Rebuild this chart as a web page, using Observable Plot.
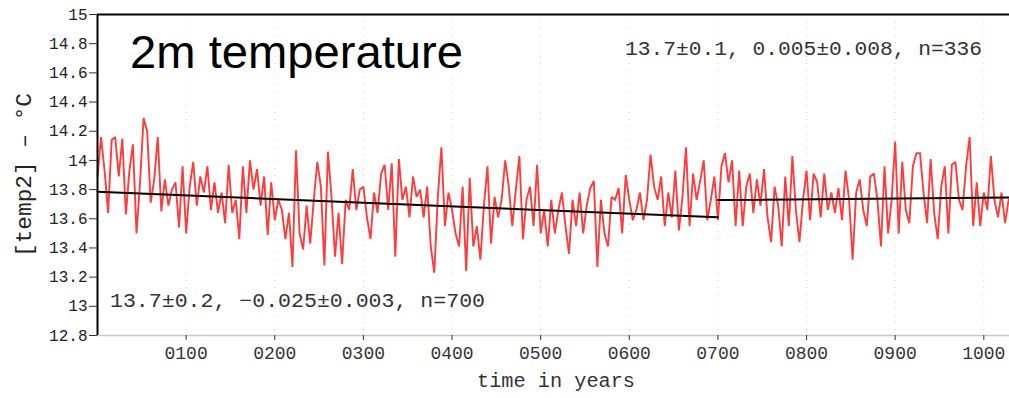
<!DOCTYPE html>
<html><head><meta charset="utf-8">
<script src="https://cdn.jsdelivr.net/npm/d3@7"></script>
<script src="https://cdn.jsdelivr.net/npm/@observablehq/plot@0.6"></script>
<style>
html,body{margin:0;padding:0;background:#fff;}
#chart{width:1009px;height:398px;overflow:hidden;}
</style></head><body><div id="chart"></div>
<script>
// 2m temperature, one value every 4 model years (°C)
const yearStep = 4;
const tempA = [
13.89,14.16,13.93,13.64,14.14,14.16,13.89,14.15,13.63,13.93,
14.11,13.50,13.85,14.29,14.20,13.71,13.87,14.16,13.65,13.87,
13.69,13.80,13.85,13.54,13.96,13.50,13.82,13.99,13.69,13.89,
13.78,13.96,13.66,13.85,13.64,13.78,13.57,13.97,13.64,13.73,
13.46,13.96,13.64,14.00,13.80,13.94,13.69,13.89,13.49,13.85,
13.59,13.73,13.66,13.46,13.64,13.27,14.07,13.50,13.39,13.69,
13.43,13.73,13.99,13.82,13.28,14.06,13.75,13.34,13.64,13.29,
13.73,13.66,13.94,13.66,13.80,13.82,13.61,13.46,13.78,13.64,
13.91,13.97,13.66,13.98,13.34,14.01,13.73];
const tempB = [
13.82,13.61,13.89,13.75,13.80,13.61,13.82,13.41,13.23,13.75,
14.09,13.55,13.78,13.66,13.50,13.41,13.82,13.24,13.88,13.41,
13.55,13.32,13.69,13.96,13.43,13.75,13.61,13.73,14.00,13.82,
13.55,13.80,14.03,13.46,13.73,13.82,13.55,13.97,13.50,13.66,
13.41,13.73,13.50,13.66,13.78,13.55,13.36,13.73,13.55,13.78,
13.50,13.69,13.81,13.86,13.27,13.73,13.50,13.41,13.75,13.73,
13.81,13.50,13.90,13.73,13.59,13.66,13.78,13.59,13.73,14.04,
13.82,13.73,13.89,13.55,13.78,13.61,13.93,13.52,13.75,14.09,
13.55,13.91,13.73,13.86,14.00,13.59];
const tempC = [
13.73,13.89,13.59,13.96,14.05,13.85,14.00,13.55,13.93,13.55,
13.82,13.91,13.64,13.87,13.69,13.94,13.61,13.44,13.82,13.69,
13.41,13.89,13.55,14.03,13.66,13.44,13.73,13.93,13.59,13.91,
13.85,13.61,13.91,13.66,13.78,13.64,13.81,13.59,13.93,13.73,
13.32,13.78,13.87,13.66,13.55,13.89,13.91,13.73,13.41,13.96,
13.50,13.73,14.13,13.50,13.99,13.66,13.57,13.96,14.05,14.05,
13.78,13.57,14.01,13.64,13.46,13.82,13.96,13.50,13.97,13.99,
13.73,13.66,13.96,14.16,13.55,13.85,13.55,13.78,13.66,14.03,
13.73,13.61,13.78,13.57,13.73];

// linear fits (two segments)
const trendSeg = ["fit1","fit1","fit2","fit2"];
const trendYears = [0, 700, 700, 1029];
const trendValues = [13.785, 13.61, 13.728, 13.745];

const xTicks = [100,200,300,400,500,600,700,800,900,1000];
const yTicks = [12.8,13,13.2,13.4,13.6,13.8,14,14.2,14.4,14.6,14.8,15];

const titleText = "2m temperature";
const noteTop = "13.7±0.1, 0.005±0.008, n=336";
const noteBottom = "13.7±0.2, −0.025±0.003, n=700";
const xLabel = "time in years";
const yLabel = "[temp2] – °C";

const temps = [...tempA, ...tempB, ...tempC];
const series = temps.map((t, i) => ({year: i * yearStep, t}));
const trend = trendYears.map((year, i) => ({year, t: trendValues[i], seg: trendSeg[i]}));

const mono = "'Liberation Mono', 'DejaVu Sans Mono', monospace";
const plot = Plot.plot({
  width: 1009, height: 398,
  marginLeft: 97, marginTop: 14, marginBottom: 63, marginRight: 0,
  style: {background: "#fff", fontFamily: mono, color: "#222", overflow: "hidden"},
  x: {domain: [0, 1029]},
  y: {domain: [12.8, 15]},
  marks: [
    Plot.ruleX(xTicks, {stroke: "#d0d0d0", strokeDasharray: "1,6", strokeWidth: 1}),
    Plot.line(series, {x: "year", y: "t", stroke: "#ff3c3c", strokeWidth: 1.9, strokeLinejoin: "miter", strokeMiterlimit: 2}),
    Plot.line(trend, {x: "year", y: "t", z: "seg", stroke: "#000", strokeWidth: 2}),
    Plot.ruleY([12.8], {stroke: "#c8c8c8", strokeWidth: 1.5}),
    Plot.ruleY([15], {stroke: "#000", strokeWidth: 2}),
    Plot.ruleX([0], {stroke: "#000", strokeWidth: 2}),
    Plot.axisX(xTicks, {tickFormat: d3.format("04d"), tickSize: 5, tickPadding: 6, label: null, fontSize: 18, fontFamily: mono, stroke: "#333", fill: "#333"}),
    Plot.axisY(yTicks, {tickFormat: d => String(+d.toFixed(1)), tickSize: 8, tickPadding: 2, label: null, fontSize: 16, fontFamily: mono, stroke: "#333", fill: "#222"})
  ]
});
document.getElementById("chart").appendChild(plot);

const svg = d3.select(plot);
function addText(txt, x, y, size, opts = {}) {
  const t = svg.append("text").text(txt)
    .attr("x", x).attr("y", y)
    .attr("font-size", size)
    .attr("font-family", opts.family || mono)
    .attr("fill", opts.fill || "#222")
    .attr("text-anchor", opts.anchor || "start");
  if (opts.len) t.attr("textLength", opts.len).attr("lengthAdjust", "spacingAndGlyphs");
  if (opts.transform) t.attr("transform", opts.transform);
  return t;
}
addText(titleText, 130, 68, 46, {family: "'Liberation Sans', Arial, sans-serif", fill: "#000", len: 333});
addText(noteTop, 625, 55, 20, {len: 357, fill: "#333"});
addText(noteBottom, 110, 307, 20, {len: 375, fill: "#333"});
addText(xLabel, 556, 387, 20, {anchor: "middle", len: 158, fill: "#333"});
addText(yLabel, 0, 0, 22, {anchor: "middle", len: 164, fill: "#222", transform: "translate(31,175) rotate(-90)"});
</script></body></html>
